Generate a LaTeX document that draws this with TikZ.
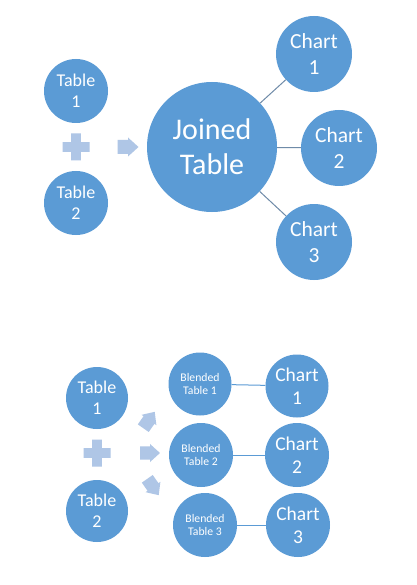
\documentclass[tikz,border=0pt]{standalone}
\usepackage{fontspec}
\setmainfont{Carlito}
\definecolor{circblue}{HTML}{5B9BD5}
\definecolor{lightblue}{HTML}{AFC6E6}
\definecolor{linegray}{HTML}{6F8BA8}
\begin{document}
\begin{tikzpicture}[x=1pt,y=-1pt,
  circ/.style={circle,fill=circblue,text=white,inner sep=0pt,minimum size=#1,align=center},
  conn/.style={draw=#1,line width=1pt},
  plusshape/.pic={\fill[lightblue] (-4.8,-13.5)--(4.8,-13.5)--(4.8,-4.8)--(13.5,-4.8)--(13.5,4.8)--(4.8,4.8)--(4.8,13.5)--(-4.8,13.5)--(-4.8,4.8)--(-13.5,4.8)--(-13.5,-4.8)--(-4.8,-4.8)--cycle;},
  blockarrow/.pic={\fill[lightblue] (-10.5,-7)--(0,-7)--(0,-9.5)--(10.5,0)--(0,9.5)--(0,7)--(-10.5,7)--cycle;}
]
\useasboundingbox (0,0) rectangle (416,585);
\fill[white] (0,0) rectangle (416,585);
% top section
\node[circ=64pt,font=\fontsize{18}{21}\selectfont] (t1) at (76,91) {Table\\1};
\node[circ=64pt,font=\fontsize{18}{21}\selectfont] (t2) at (76,203) {Table\\2};
\pic at (76,147) {plusshape};
\pic at (128,147) {blockarrow};
\node[circ=130pt,font=\fontsize{30}{35}\selectfont] (jt) at (212,147) {Joined\\Table};
\node[circ=76pt,font=\fontsize{21.5}{26}\selectfont] (c1) at (314,54) {Chart\\1};
\node[circ=76pt,font=\fontsize{21.5}{26}\selectfont] (c2) at (339,148) {Chart\\2};
\node[circ=76pt,font=\fontsize{21.5}{26}\selectfont] (c3) at (314,242) {Chart\\3};
\draw[conn=linegray] (jt) -- (c1);
\draw[conn=linegray] (jt) -- (c2);
\draw[conn=linegray] (jt) -- (c3);
% bottom section
\node[circ=62pt,font=\fontsize{18}{21}\selectfont] (bt1) at (97,398) {Table\\1};
\node[circ=62pt,font=\fontsize{18}{21}\selectfont] (bt2) at (97,511) {Table\\2};
\pic at (97,453) {plusshape};
\pic[rotate=55,scale=0.95] at (149,420) {blockarrow};
\pic[scale=0.95] at (150,453) {blockarrow};
\pic[rotate=-55,scale=0.95] at (153,487) {blockarrow};
\node[circ=63pt,font=\fontsize{11.7}{13}\selectfont] (b1) at (200,384) {Blended\\Table 1};
\node[circ=64pt,font=\fontsize{11.7}{13}\selectfont] (b2) at (201,455) {Blended\\Table 2};
\node[circ=64pt,font=\fontsize{11.7}{13}\selectfont] (b3) at (205,525) {Blended\\Table 3};
\node[circ=63pt,font=\fontsize{19.5}{23}\selectfont] (d1) at (297,386) {Chart\\1};
\node[circ=64pt,font=\fontsize{19.5}{23}\selectfont] (d2) at (297,455) {Chart\\2};
\node[circ=64pt,font=\fontsize{19.5}{23}\selectfont] (d3) at (298,525) {Chart\\3};
\draw[conn=circblue] (b1) -- (d1);
\draw[conn=circblue] (b2) -- (d2);
\draw[conn=circblue] (b3) -- (d3);
\end{tikzpicture}
\end{document}
